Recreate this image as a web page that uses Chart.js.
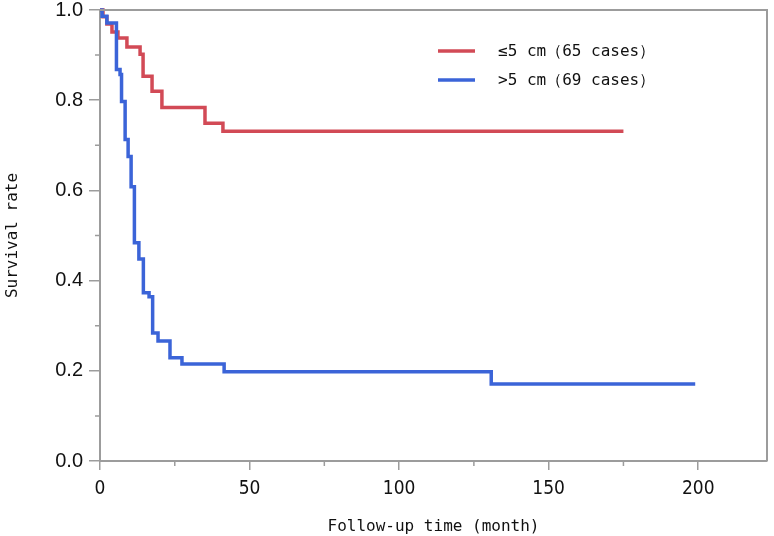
<!DOCTYPE html>
<html>
<head>
<meta charset="utf-8">
<title>Survival curves</title>
<script src="https://cdn.jsdelivr.net/npm/chart.js@4.4.0/dist/chart.umd.min.js"></script>
<style>
  html, body { margin: 0; padding: 0; background: #fff; }
  #wrap { width: 774px; height: 536px; position: relative; }
</style>
</head>
<body>
<div id="wrap"><canvas id="chart"></canvas></div>
<script>
'use strict';

// **** Data ****

let groupLabels = ['≤5 cm（65 cases）', '>5 cm（69 cases）'];

let smallTimes = [0, 1, 2.3, 4, 6, 9, 13.4, 14.4, 17.4, 20.7, 35.1, 41.1, 175];
let smallSurvival = [1.0, 0.985, 0.969, 0.951, 0.938, 0.918, 0.902, 0.853, 0.820, 0.784, 0.749, 0.731, 0.731];

let largeTimes = [0, 0.7, 2.3, 5.5, 6.7, 7.2, 8.4, 9.4, 10.4, 11.5, 13.0, 14.5, 16.4, 17.6, 19.4, 23.4, 27.4, 41.5, 130.8, 199];
let largeSurvival = [1.0, 0.986, 0.971, 0.868, 0.857, 0.797, 0.713, 0.675, 0.608, 0.484, 0.448, 0.373, 0.364, 0.284, 0.266, 0.229, 0.215, 0.198, 0.171, 0.171];

let xTicks = [0, 50, 100, 150, 200];
let yTicks = [0, 0.2, 0.4, 0.6, 0.8, 1.0];
let xMinorTicks = [25, 75, 125, 175];
let yMinorTicks = [0.1, 0.3, 0.5, 0.7, 0.9];

let xTitle = 'Follow-up time (month)';
let yTitle = 'Survival rate';

// **** Styles ****

let redColor = '#d24a56';
let blueColor = '#3b64d8';
let axisColor = '#9c9c9c';
let monoFont = '"DejaVu Sans Mono", monospace';

// **** Helpers ****

function toPoints(times, values){
  let pts = [];
  for (let i = 0; i < times.length; i++){
    pts.push({x: times[i], y: values[i]});
  }
  return pts;
}

// frame, minor ticks and legend drawn after the chart
let extrasPlugin = {
  id: 'extras',
  afterDraw(chart){
    let ctx = chart.ctx;
    let area = chart.chartArea;
    let xs = chart.scales.x;
    let ys = chart.scales.y;

    ctx.save();
    ctx.strokeStyle = axisColor;
    ctx.lineWidth = 2;
    ctx.beginPath();
    ctx.moveTo(area.left, area.top);
    ctx.lineTo(area.right, area.top);
    ctx.lineTo(area.right, area.bottom);
    ctx.stroke();

    ctx.lineWidth = 1.5;
    ctx.beginPath();
    for (let v of yMinorTicks){
      let py = ys.getPixelForValue(v);
      ctx.moveTo(area.left - 5, py);
      ctx.lineTo(area.left, py);
    }
    for (let v of xMinorTicks){
      let px = xs.getPixelForValue(v);
      ctx.moveTo(px, area.bottom);
      ctx.lineTo(px, area.bottom + 5);
    }
    ctx.stroke();

    // legend
    let rows = [51, 80];
    chart.data.datasets.forEach(function(ds, i){
      ctx.strokeStyle = ds.borderColor;
      ctx.lineWidth = 3.5;
      ctx.beginPath();
      ctx.moveTo(438, rows[i]);
      ctx.lineTo(475, rows[i]);
      ctx.stroke();
      ctx.fillStyle = '#111';
      ctx.font = '16px ' + monoFont;
      ctx.textBaseline = 'middle';
      ctx.fillText(ds.label, 498, rows[i] + 1);
    });
    ctx.restore();
  }
};

// **** Chart ****

let chartCanvas = document.getElementById('chart');

let chartObj = {
  type: 'line',
  data: {
    datasets: [{
      label: groupLabels[0],
      data: toPoints(smallTimes, smallSurvival),
      borderColor: redColor,
      borderWidth: 3.5,
      stepped: true,
      pointRadius: 0,
      fill: false,
      clip: false,
      order: 1
    },
    {
      label: groupLabels[1],
      data: toPoints(largeTimes, largeSurvival),
      borderColor: blueColor,
      borderWidth: 3.5,
      stepped: true,
      pointRadius: 0,
      fill: false,
      clip: false,
      order: 0
    }]
  },
  options: {
    responsive: true,
    maintainAspectRatio: false,
    animation: false,
    layout: { padding: { top: 10, right: 7, left: 0, bottom: 0 } },
    plugins: {
      legend: { display: false },
      tooltip: { enabled: false }
    },
    scales: {
      x: {
        type: 'linear',
        min: 0,
        max: 223,
        afterBuildTicks: function(scale){
          scale.ticks = xTicks.map(function(v){ return {value: v}; });
        },
        afterFit: function(scale){
          scale.height = 75;
          scale.paddingLeft = 0;
          scale.paddingRight = 0;
        },
        border: { color: axisColor, width: 2 },
        grid: { drawOnChartArea: false, drawTicks: true, tickLength: 9, color: axisColor, lineWidth: 1.5 },
        ticks: {
          color: '#111',
          padding: 8,
          maxRotation: 0,
          font: { family: '"DejaVu Sans Condensed", "Liberation Sans Narrow", sans-serif', size: 19 }
        },
        title: {
          display: true,
          text: xTitle,
          color: '#111',
          padding: { top: 6, bottom: 0 },
          font: { family: monoFont, size: 16 }
        }
      },
      y: {
        type: 'linear',
        min: 0,
        max: 1,
        afterBuildTicks: function(scale){
          scale.ticks = yTicks.map(function(v){ return {value: v}; });
        },
        afterFit: function(scale){
          scale.width = 100;
          scale.paddingTop = 0;
          scale.paddingBottom = 0;
        },
        border: { color: axisColor, width: 2 },
        grid: { drawOnChartArea: false, drawTicks: true, tickLength: 11, color: axisColor, lineWidth: 1.5 },
        ticks: {
          color: '#111',
          padding: 6,
          font: { family: '"Liberation Sans", Arial, sans-serif', size: 20 },
          callback: function(v){ return Number(v).toFixed(1); }
        },
        title: {
          display: true,
          text: yTitle,
          color: '#111',
          padding: { top: 3, bottom: 0 },
          font: { family: monoFont, size: 16 }
        }
      }
    }
  },
  plugins: [extrasPlugin]
};

new Chart(chartCanvas, chartObj);
</script>
</body>
</html>
